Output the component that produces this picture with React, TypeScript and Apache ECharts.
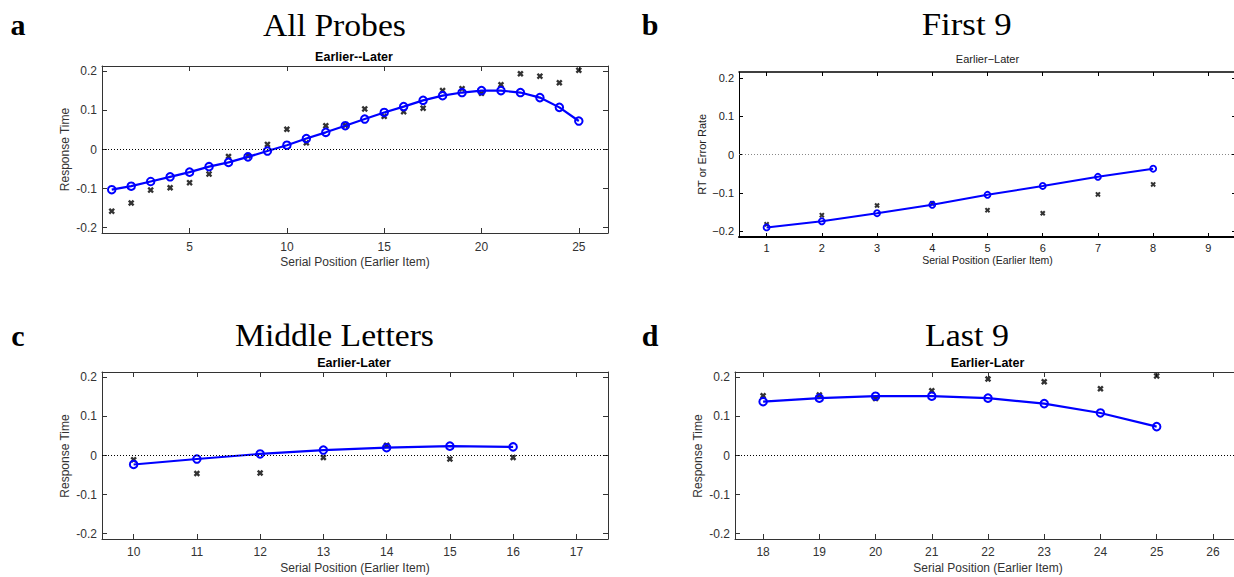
import React, { useEffect, useRef } from "react";
import * as echarts from "echarts";

// ---------------- DATA ----------------
const positionsAll = [1, 2, 3, 4, 5, 6, 7, 8, 9, 10, 11, 12, 13, 14, 15, 16, 17, 18, 19, 20, 21, 22, 23, 24, 25];
const allFit = [-0.103, -0.094, -0.082, -0.070, -0.058, -0.044, -0.033, -0.019, -0.004, 0.011, 0.028, 0.044, 0.061, 0.078, 0.095, 0.110, 0.126, 0.138, 0.146, 0.151, 0.151, 0.146, 0.133, 0.108, 0.073];
const allObs = [-0.158, -0.137, -0.104, -0.098, -0.085, -0.063, -0.018, -0.016, 0.013, 0.052, 0.017, 0.061, 0.062, 0.104, 0.085, 0.097, 0.106, 0.151, 0.156, 0.144, 0.166, 0.194, 0.188, 0.171, 0.203];

const positionsFirst = [1, 2, 3, 4, 5, 6, 7, 8];
const firstFit = [-0.190, -0.174, -0.153, -0.131, -0.105, -0.082, -0.058, -0.037];
const firstObs = [-0.182, -0.158, -0.133, -0.127, -0.145, -0.153, -0.104, -0.078];

const positionsMiddle = [10, 11, 12, 13, 14, 15, 16];
const middleFit = [-0.023, -0.009, 0.004, 0.014, 0.020, 0.024, 0.022];
const middleObs = [-0.011, -0.046, -0.045, -0.005, 0.026, -0.009, -0.005];

const positionsLast = [18, 19, 20, 21, 22, 23, 24, 25];
const lastFit = [0.138, 0.147, 0.152, 0.152, 0.147, 0.133, 0.109, 0.074];
const lastObs = [0.153, 0.155, 0.146, 0.166, 0.196, 0.189, 0.171, 0.204];

const xTicksAll = [5, 10, 15, 20, 25];
const xTicksFirst = [1, 2, 3, 4, 5, 6, 7, 8, 9];
const xTicksMiddle = [10, 11, 12, 13, 14, 15, 16, 17];
const xTicksLast = [18, 19, 20, 21, 22, 23, 24, 25, 26];
const yTicks = [-0.2, -0.1, 0, 0.1, 0.2];

const panelLetters = ["a", "b", "c", "d"];
const panelTitles = ["All Probes", "First 9", "Middle Letters", "Last 9"];
const subTitles = ["Earlier--Later", "Earlier\u2212Later", "Earlier-Later", "Earlier-Later"];
const xTitle = "Serial Position (Earlier Item)";
const yTitles = ["Response Time", "RT or Error Rate", "Response Time", "Response Time"];

// ---------------- STYLE ----------------
const SANS = '"Liberation Sans", Arial, Helvetica, sans-serif';
const SERIF = '"Liberation Serif", "Times New Roman", serif';
const BLUE = "#0000ff";
const CROSS = "path://M0,2.6L2.6,0L5,2.4L7.4,0L10,2.6L7.6,5L10,7.4L7.4,10L5,7.6L2.6,10L0,7.4L2.4,5Z";

const zip = (xs: number[], ys: number[]) => xs.map((x, i) => [x, ys[i]]);

type Panel = {
  grid: { left: number; top: number; width: number; height: number };
  xMin: number; xMax: number; xTicks: number[];
  yMin: number; yMax: number;
  xs: number[]; fit: number[]; obs: number[];
  axisColor: string; labelColor: string; fontSize: number; unicodeMinus: boolean;
  topW: number; bottomW: number; sideW: number;
  marginX: number; marginY: number; tickLen: number; zeroColor: string;
  circle: number; circleBorder: number; lineW: number; cross: number;
};

const panels: Panel[] = [
  {
    grid: { left: 102, top: 66, width: 506, height: 167 },
    xMin: 0.5, xMax: 26.5, xTicks: xTicksAll, yMin: -0.214, yMax: 0.214,
    xs: positionsAll, fit: allFit, obs: allObs,
    axisColor: "#333", labelColor: "#333", fontSize: 12, unicodeMinus: false,
    topW: 1, bottomW: 1, sideW: 1, marginX: 8, marginY: 5, tickLen: 5, zeroColor: "#000",
    circle: 7.5, circleBorder: 2, lineW: 2.2, cross: 6.5,
  },
  {
    grid: { left: 739, top: 72, width: 497, height: 165 },
    xMin: 0.5, xMax: 9.5, xTicks: xTicksFirst, yMin: -0.215, yMax: 0.215,
    xs: positionsFirst, fit: firstFit, obs: firstObs,
    axisColor: "#000", labelColor: "#222", fontSize: 11, unicodeMinus: true,
    topW: 1.5, bottomW: 2, sideW: 1, marginX: 5, marginY: 5, tickLen: 4, zeroColor: "#888",
    circle: 6, circleBorder: 1.8, lineW: 2, cross: 5.5,
  },
  {
    grid: { left: 102, top: 372, width: 506, height: 167 },
    xMin: 9.5, xMax: 17.5, xTicks: xTicksMiddle, yMin: -0.214, yMax: 0.214,
    xs: positionsMiddle, fit: middleFit, obs: middleObs,
    axisColor: "#333", labelColor: "#333", fontSize: 12, unicodeMinus: false,
    topW: 1, bottomW: 1, sideW: 1, marginX: 7, marginY: 5, tickLen: 5, zeroColor: "#000",
    circle: 7.5, circleBorder: 2, lineW: 2.2, cross: 6.5,
  },
  {
    grid: { left: 735, top: 372, width: 506, height: 167 },
    xMin: 17.5, xMax: 26.5, xTicks: xTicksLast, yMin: -0.214, yMax: 0.214,
    xs: positionsLast, fit: lastFit, obs: lastObs,
    axisColor: "#333", labelColor: "#333", fontSize: 12, unicodeMinus: false,
    topW: 1, bottomW: 1, sideW: 1, marginX: 7, marginY: 5, tickLen: 5, zeroColor: "#000",
    circle: 7.5, circleBorder: 2, lineW: 2.2, cross: 6.5,
  },
];

// text layout (centres)
const letterPos = [[18, 24.5], [650, 24.5], [18, 335], [650, 335]];
const titlePos = [[334.5, 25.5], [966.7, 25], [334.5, 335.2], [967, 335.2]];
const titleWidths = [143, 90, 199, 84];
const subPos = [[354, 56.7], [987.5, 59], [354, 362.7], [987.5, 362.7]];
const xTitlePos = [[355, 262], [987.5, 260], [355, 568.3], [988, 568.3]];
const yTitlePos = [[65, 149.5], [702, 154.2], [65, 456], [697.7, 456]];

function measureScale(text: string, font: string, target: number): number {
  try {
    const ctx = document.createElement("canvas").getContext("2d");
    if (!ctx) return 1;
    ctx.font = font;
    const w = ctx.measureText(text).width;
    return w > 0 ? target / w : 1;
  } catch (e) {
    return 1;
  }
}

function buildOption() {
  const grid: any[] = [];
  const xAxis: any[] = [];
  const yAxis: any[] = [];
  const series: any[] = [];

  panels.forEach((p, i) => {
    grid.push({ ...p.grid, containLabel: false, outerBoundsMode: "none" });
    const lbl = { color: p.labelColor, fontSize: p.fontSize, fontFamily: SANS };
    const yFmt = (v: number) => {
      if (Math.abs(v) < 1e-9) return "0";
      const s = v.toFixed(1);
      return p.unicodeMinus ? s.replace("-", "\u2212") : s;
    };
    const baseX = (pos: string, w: number, showLabel: boolean) => ({
      gridIndex: i, type: "value", min: p.xMin, max: p.xMax, position: pos,
      axisLine: { show: true, onZero: false, lineStyle: { color: p.axisColor, width: w } },
      axisTick: { show: true, inside: true, length: p.tickLen, customValues: p.xTicks, lineStyle: { color: p.axisColor, width: 1 } },
      axisLabel: { show: showLabel, customValues: p.xTicks, margin: p.marginX, ...lbl },
      splitLine: { show: false },
    });
    const baseY = (pos: string, showLabel: boolean) => ({
      gridIndex: i, type: "value", min: p.yMin, max: p.yMax, position: pos,
      axisLine: { show: true, onZero: false, lineStyle: { color: p.axisColor, width: p.sideW } },
      axisTick: { show: true, inside: true, length: p.tickLen, customValues: yTicks, lineStyle: { color: p.axisColor, width: 1 } },
      axisLabel: { show: showLabel, customValues: yTicks, margin: p.marginY, formatter: yFmt, ...lbl },
      splitLine: { show: false },
    });
    xAxis.push(baseX("bottom", p.bottomW, true));
    xAxis.push(baseX("top", p.topW, false));
    yAxis.push(baseY("left", true));
    yAxis.push(baseY("right", false));

    series.push({
      type: "scatter",
      xAxisIndex: 2 * i, yAxisIndex: 2 * i,
      data: zip(p.xs, p.obs),
      symbol: CROSS, symbolSize: p.cross,
      itemStyle: { color: "#000" },
      z: 2,
      silent: true,
      markLine: {
        silent: true, symbol: ["none", "none"], label: { show: false },
        lineStyle: { type: [1, 2], color: p.zeroColor, width: 1 },
        data: [{ yAxis: 0 }],
        animation: false,
      },
    });
    series.push({
      type: "line",
      xAxisIndex: 2 * i, yAxisIndex: 2 * i,
      data: zip(p.xs, p.fit),
      symbol: "circle", symbolSize: p.circle, showSymbol: true,
      lineStyle: { color: BLUE, width: p.lineW },
      itemStyle: { color: "rgba(255,255,255,0)", borderColor: BLUE, borderWidth: p.circleBorder },
      z: 3,
      silent: true,
    });
  });

  const graphic: any[] = [];
  panels.forEach((p, i) => {
    const letterFont = `bold 30px ${SERIF}`;
    graphic.push({
      type: "text", x: letterPos[i][0], y: letterPos[i][1],
      style: { text: panelLetters[i], font: letterFont, fill: "#000", textAlign: "center", textVerticalAlign: "middle" },
    });
    const titleFont = `31px ${SERIF}`;
    const sx = measureScale(panelTitles[i], titleFont, titleWidths[i]);
    graphic.push({
      type: "text", x: titlePos[i][0], y: titlePos[i][1], scaleX: sx,
      style: { text: panelTitles[i], font: titleFont, fill: "#000", textAlign: "center", textVerticalAlign: "middle" },
    });
    const subFont = i === 1 ? `11px ${SANS}` : `bold 12.5px ${SANS}`;
    graphic.push({
      type: "text", x: subPos[i][0], y: subPos[i][1],
      style: { text: subTitles[i], font: subFont, fill: i === 1 ? "#222" : "#000", textAlign: "center", textVerticalAlign: "middle" },
    });
    const axFont = i === 1 ? `10.5px ${SANS}` : `12px ${SANS}`;
    const axColor = i === 1 ? "#222" : "#333";
    graphic.push({
      type: "text", x: xTitlePos[i][0], y: xTitlePos[i][1],
      style: { text: xTitle, font: axFont, fill: axColor, textAlign: "center", textVerticalAlign: "middle" },
    });
    graphic.push({
      type: "text", x: yTitlePos[i][0], y: yTitlePos[i][1], rotation: Math.PI / 2,
      style: { text: yTitles[i], font: i === 1 ? `11px ${SANS}` : `12px ${SANS}`, fill: axColor, textAlign: "center", textVerticalAlign: "middle" },
    });
  });

  return {
    animation: false,
    backgroundColor: "#fff",
    grid, xAxis, yAxis, series, graphic,
  };
}

export default function App() {
  const ref = useRef<HTMLDivElement | null>(null);
  useEffect(() => {
    if (!ref.current) return;
    const chart = echarts.init(ref.current, undefined, { renderer: "svg", width: 1234, height: 577 });
    chart.setOption(buildOption() as any);
    return () => chart.dispose();
  }, []);
  return (
    <div
      ref={ref}
      style={{ position: "absolute", left: 0, top: 0, width: 1234, height: 577, background: "#fff", overflow: "hidden" }}
    />
  );
}
